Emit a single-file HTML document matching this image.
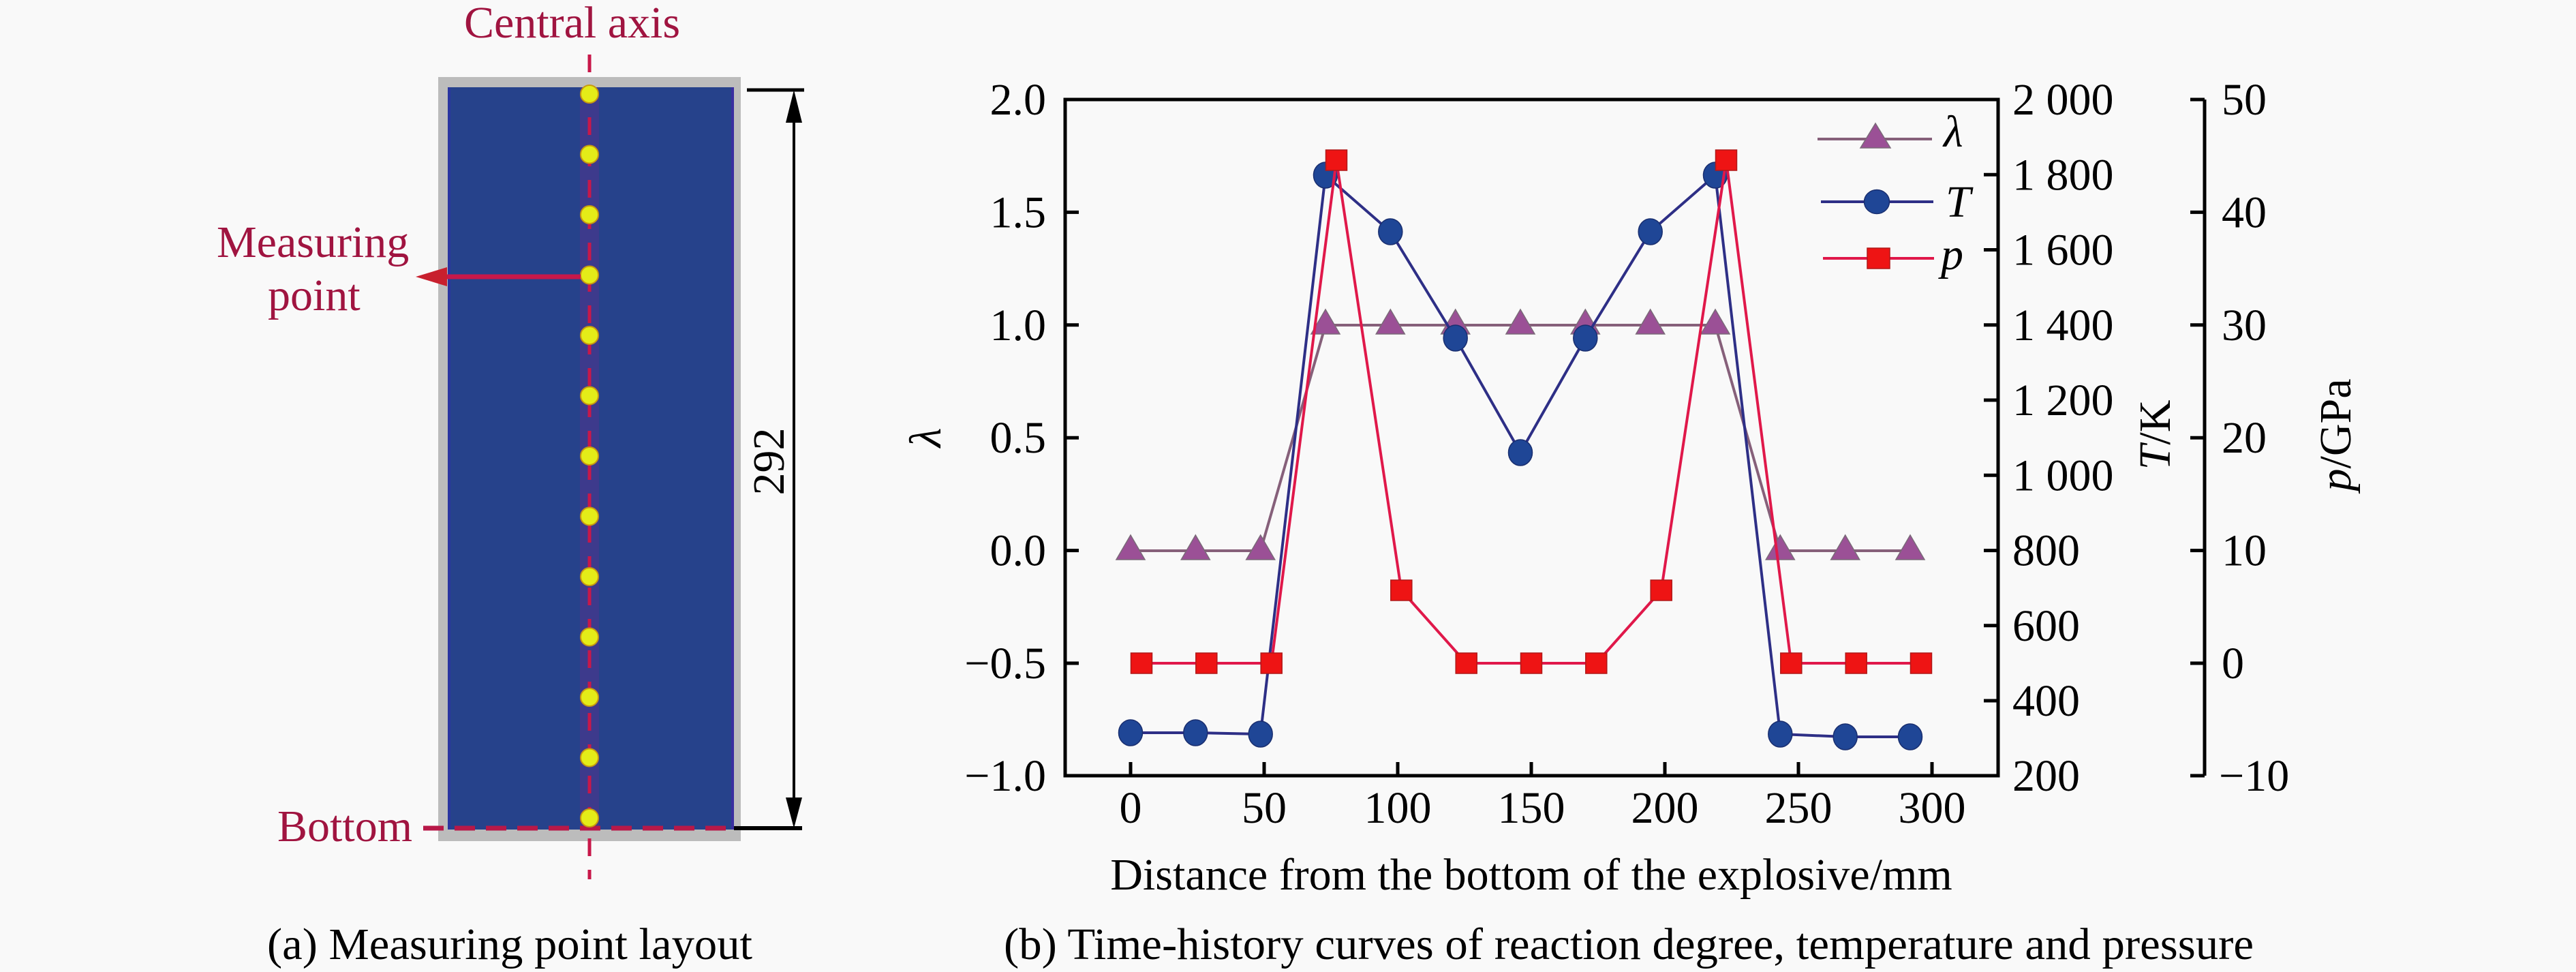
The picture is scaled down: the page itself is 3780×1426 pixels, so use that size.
<!DOCTYPE html>
<html>
<head>
<meta charset="utf-8">
<style>
html,body{margin:0;padding:0;background:#f9f9f9;}
svg{display:block;}
text{font-family:"Liberation Serif","Times New Roman",serif;}
</style>
</head>
<body>
<svg width="3780" height="1426" viewBox="0 0 3780 1426" xmlns="http://www.w3.org/2000/svg">
<rect x="0" y="0" width="3780" height="1426" fill="#f9f9f9"/>

<!-- ================= Panel (a) ================= -->
<g>
  <!-- gray border & blue body -->
  <rect x="643" y="113" width="444" height="1121" fill="#bcbcbc"/>
  <rect x="657" y="128" width="420" height="1089" fill="#26428b"/>
  <rect x="657" y="128" width="4" height="1089" fill="#2a36a0"/>
  <rect x="1073" y="128" width="4" height="1089" fill="#3a2fa0"/>
  <!-- purple band along axis -->
  <rect x="851" y="128" width="28" height="1089" fill="#3d3a8c"/>
  <!-- central dashed axis -->
  <line x1="865" y1="80" x2="865" y2="1290" stroke="#c8184a" stroke-width="5" stroke-dasharray="26 20"/>
  <!-- bottom dashed line -->
  <line x1="621" y1="1215" x2="1077" y2="1215" stroke="#b81848" stroke-width="7" stroke-dasharray="30 16"/>
  <!-- yellow measuring points -->
  <g fill="#e4ec18" stroke="#c89a10" stroke-width="2">
    <circle cx="865" cy="138" r="13"/>
    <circle cx="865" cy="226.5" r="13"/>
    <circle cx="865" cy="315" r="13"/>
    <circle cx="865" cy="403.5" r="13"/>
    <circle cx="865" cy="492" r="13"/>
    <circle cx="865" cy="580.5" r="13"/>
    <circle cx="865" cy="669" r="13"/>
    <circle cx="865" cy="757.5" r="13"/>
    <circle cx="865" cy="846" r="13"/>
    <circle cx="865" cy="934.5" r="13"/>
    <circle cx="865" cy="1023" r="13"/>
    <circle cx="865" cy="1111.5" r="13"/>
    <circle cx="865" cy="1200" r="13"/>
  </g>
  <!-- measuring point arrow -->
  <line x1="852" y1="406" x2="650" y2="406" stroke="#c8184a" stroke-width="7"/>
  <polygon points="610,406 656,392 656,420" fill="#c8202e"/>
  <!-- dimension lines -->
  <line x1="1096" y1="132" x2="1180" y2="132" stroke="#000" stroke-width="5"/>
  <line x1="1077" y1="1215" x2="1177" y2="1215" stroke="#000" stroke-width="6"/>
  <line x1="1165" y1="170" x2="1165" y2="1180" stroke="#000" stroke-width="4"/>
  <polygon points="1165,132 1153,180 1177,180" fill="#000"/>
  <polygon points="1165,1215 1153,1170 1177,1170" fill="#000"/>
  <text x="0" y="0" font-size="66" fill="#000" text-anchor="middle" transform="translate(1150,677) rotate(-90)">292</text>
  <!-- labels -->
  <text x="681" y="55" font-size="66" fill="#a01440">Central axis</text>
  <text x="318" y="377" font-size="66" fill="#a01440">Measuring</text>
  <text x="393" y="455" font-size="66" fill="#a01440">point</text>
  <text x="407" y="1234" font-size="66" fill="#a01440">Bottom</text>
  <!-- caption -->
  <text x="392" y="1407" font-size="66" fill="#000" textLength="712" lengthAdjust="spacingAndGlyphs">(a) Measuring point layout</text>
</g>

<!-- ================= Panel (b) ================= -->
<g>
  <!-- plot box -->
  <rect x="1563" y="146" width="1369" height="992" fill="none" stroke="#000" stroke-width="5"/>
  <!-- p axis -->
  <line x1="3235" y1="146" x2="3235" y2="1138" stroke="#000" stroke-width="5"/>

  <!-- ticks -->
  <g stroke="#000" stroke-width="5">
    <!-- bottom -->
    <line x1="1659" y1="1138" x2="1659" y2="1118"/>
    <line x1="1855" y1="1138" x2="1855" y2="1118"/>
    <line x1="2051" y1="1138" x2="2051" y2="1118"/>
    <line x1="2247" y1="1138" x2="2247" y2="1118"/>
    <line x1="2443" y1="1138" x2="2443" y2="1118"/>
    <line x1="2639" y1="1138" x2="2639" y2="1118"/>
    <line x1="2835" y1="1138" x2="2835" y2="1118"/>
    <!-- left -->
    <line x1="1563" y1="311.4" x2="1583" y2="311.4"/>
    <line x1="1563" y1="476.8" x2="1583" y2="476.8"/>
    <line x1="1563" y1="642.2" x2="1583" y2="642.2"/>
    <line x1="1563" y1="807.6" x2="1583" y2="807.6"/>
    <line x1="1563" y1="973" x2="1583" y2="973"/>
    <!-- T axis -->
    <line x1="2911" y1="256.3" x2="2932" y2="256.3"/>
    <line x1="2911" y1="366.5" x2="2932" y2="366.5"/>
    <line x1="2911" y1="476.8" x2="2932" y2="476.8"/>
    <line x1="2911" y1="587" x2="2932" y2="587"/>
    <line x1="2911" y1="697.3" x2="2932" y2="697.3"/>
    <line x1="2911" y1="807.6" x2="2932" y2="807.6"/>
    <line x1="2911" y1="917.8" x2="2932" y2="917.8"/>
    <line x1="2911" y1="1028" x2="2932" y2="1028"/>
    <!-- p axis -->
    <line x1="3214" y1="146" x2="3235" y2="146"/>
    <line x1="3214" y1="311.4" x2="3235" y2="311.4"/>
    <line x1="3214" y1="476.8" x2="3235" y2="476.8"/>
    <line x1="3214" y1="642.2" x2="3235" y2="642.2"/>
    <line x1="3214" y1="807.6" x2="3235" y2="807.6"/>
    <line x1="3214" y1="973" x2="3235" y2="973"/>
    <line x1="3214" y1="1138" x2="3235" y2="1138"/>
  </g>

  <!-- left tick labels -->
  <g font-size="66" fill="#000" text-anchor="end">
    <text x="1535" y="168">2.0</text>
    <text x="1535" y="333.4">1.5</text>
    <text x="1535" y="498.8">1.0</text>
    <text x="1535" y="664.2">0.5</text>
    <text x="1535" y="829.6">0.0</text>
    <text x="1535" y="995">−0.5</text>
    <text x="1535" y="1160">−1.0</text>
  </g>
  <!-- T tick labels -->
  <g font-size="66" fill="#000">
    <text x="2953" y="168">2 000</text>
    <text x="2953" y="278.3">1 800</text>
    <text x="2953" y="388.5">1 600</text>
    <text x="2953" y="498.8">1 400</text>
    <text x="2953" y="609">1 200</text>
    <text x="2953" y="719.3">1 000</text>
    <text x="2953" y="829.6">800</text>
    <text x="2953" y="939.8">600</text>
    <text x="2953" y="1050">400</text>
    <text x="2953" y="1160">200</text>
  </g>
  <!-- p tick labels -->
  <g font-size="66" fill="#000">
    <text x="3260" y="168">50</text>
    <text x="3260" y="333.4">40</text>
    <text x="3260" y="498.8">30</text>
    <text x="3260" y="664.2">20</text>
    <text x="3260" y="829.6">10</text>
    <text x="3260" y="995">0</text>
    <text x="3256" y="1160">−10</text>
  </g>
  <!-- x tick labels -->
  <g font-size="66" fill="#000" text-anchor="middle">
    <text x="1659" y="1207">0</text>
    <text x="1855" y="1207">50</text>
    <text x="2051" y="1207">100</text>
    <text x="2247" y="1207">150</text>
    <text x="2443" y="1207">200</text>
    <text x="2639" y="1207">250</text>
    <text x="2835" y="1207">300</text>
  </g>

  <!-- axis titles -->
  <text x="2247" y="1305" font-size="66" fill="#000" text-anchor="middle">Distance from the bottom of the explosive/mm</text>
  <text x="0" y="0" font-size="66" fill="#000" font-style="italic" text-anchor="middle" transform="translate(1380,642) rotate(-90)">λ</text>
  <text x="0" y="0" font-size="66" fill="#000" text-anchor="middle" transform="translate(3184,638) rotate(-90)"><tspan font-style="italic">T</tspan>/K</text>
  <text x="0" y="0" font-size="66" fill="#000" text-anchor="middle" transform="translate(3449,638) rotate(-90)"><tspan font-style="italic">p</tspan>/GPa</text>

  <!-- caption -->
  <text x="1473" y="1407" font-size="66" fill="#000" textLength="1834" lengthAdjust="spacingAndGlyphs">(b) Time-history curves of reaction degree, temperature and pressure</text>

  <!-- λ series -->
  <polyline fill="none" stroke="#86607a" stroke-width="4"
    points="1659,808 1754.3,808 1849.7,808 1945,477 2040.3,477 2135.7,477 2231,477 2326.3,477 2421.7,477 2517,477 2612.3,808 2707.7,808 2803,808"/>
  <g fill="#9b5096" stroke="#7a6a78" stroke-width="1.5">
    <polygon points="1659,785 1638,821 1680,821"/>
    <polygon points="1754.3,785 1733.3,821 1775.3,821"/>
    <polygon points="1849.7,785 1828.7,821 1870.7,821"/>
    <polygon points="1945,454 1924,490 1966,490"/>
    <polygon points="2040.3,454 2019.3,490 2061.3,490"/>
    <polygon points="2135.7,454 2114.7,490 2156.7,490"/>
    <polygon points="2231,454 2210,490 2252,490"/>
    <polygon points="2326.3,454 2305.3,490 2347.3,490"/>
    <polygon points="2421.7,454 2400.7,490 2442.7,490"/>
    <polygon points="2517,454 2496,490 2538,490"/>
    <polygon points="2612.3,785 2591.3,821 2633.3,821"/>
    <polygon points="2707.7,785 2686.7,821 2728.7,821"/>
    <polygon points="2803,785 2782,821 2824,821"/>
  </g>

  <!-- T series -->
  <polyline fill="none" stroke="#2e2f86" stroke-width="4"
    points="1659,1075 1754.3,1075 1849.7,1077 1945,257 2040.3,340 2135.7,496 2231,664 2326.3,496 2421.7,340 2517,257 2612.3,1077 2707.7,1081 2803,1081"/>
  <g fill="#1f4696" stroke="#1a2f70" stroke-width="1.5">
    <ellipse cx="1659" cy="1075" rx="17.5" ry="19"/>
    <ellipse cx="1754.3" cy="1075" rx="17.5" ry="19"/>
    <ellipse cx="1849.7" cy="1077" rx="17.5" ry="19"/>
    <ellipse cx="1945" cy="257" rx="17.5" ry="19"/>
    <ellipse cx="2040.3" cy="340" rx="17.5" ry="19"/>
    <ellipse cx="2135.7" cy="496" rx="17.5" ry="19"/>
    <ellipse cx="2231" cy="664" rx="17.5" ry="19"/>
    <ellipse cx="2326.3" cy="496" rx="17.5" ry="19"/>
    <ellipse cx="2421.7" cy="340" rx="17.5" ry="19"/>
    <ellipse cx="2517" cy="257" rx="17.5" ry="19"/>
    <ellipse cx="2612.3" cy="1077" rx="17.5" ry="19"/>
    <ellipse cx="2707.7" cy="1081" rx="17.5" ry="19"/>
    <ellipse cx="2803" cy="1081" rx="17.5" ry="19"/>
  </g>

  <!-- p series -->
  <polyline fill="none" stroke="#e0184a" stroke-width="4"
    points="1675,973 1770.3,973 1865.7,973 1961,235 2056.3,866 2151.7,973 2247,973 2342.3,973 2437.7,866 2533,235 2628.3,973 2723.7,973 2819,973"/>
  <g fill="#ee1414" stroke="#b01818" stroke-width="1.5">
    <rect x="1659.5" y="958" width="31" height="30"/>
    <rect x="1754.8" y="958" width="31" height="30"/>
    <rect x="1850.2" y="958" width="31" height="30"/>
    <rect x="1945.5" y="220" width="31" height="30"/>
    <rect x="2040.8" y="851" width="31" height="30"/>
    <rect x="2136.2" y="958" width="31" height="30"/>
    <rect x="2231.5" y="958" width="31" height="30"/>
    <rect x="2326.8" y="958" width="31" height="30"/>
    <rect x="2422.2" y="851" width="31" height="30"/>
    <rect x="2517.5" y="220" width="31" height="30"/>
    <rect x="2612.8" y="958" width="31" height="30"/>
    <rect x="2708.2" y="958" width="31" height="30"/>
    <rect x="2803.5" y="958" width="31" height="30"/>
  </g>

  <!-- legend -->
  <line x1="2667" y1="204" x2="2835" y2="204" stroke="#86607a" stroke-width="4"/>
  <polygon points="2752,181 2730,217 2774,217" fill="#9b5096" stroke="#7a6a78" stroke-width="1.5"/>
  <text x="2852" y="215" font-size="66" font-style="italic" fill="#000">λ</text>

  <line x1="2672" y1="296" x2="2837" y2="296" stroke="#2e2f86" stroke-width="4"/>
  <ellipse cx="2754" cy="296" rx="18.5" ry="17.5" fill="#1f4696" stroke="#1a2f70" stroke-width="1.5"/>
  <text x="2855" y="318" font-size="66" font-style="italic" fill="#000">T</text>

  <line x1="2675" y1="379" x2="2838" y2="379" stroke="#e0184a" stroke-width="4"/>
  <rect x="2740" y="364" width="33" height="30" fill="#ee1414" stroke="#b01818" stroke-width="1.5"/>
  <text x="2848" y="395" font-size="66" font-style="italic" fill="#000">p</text>
</g>
</svg>
</body>
</html>
